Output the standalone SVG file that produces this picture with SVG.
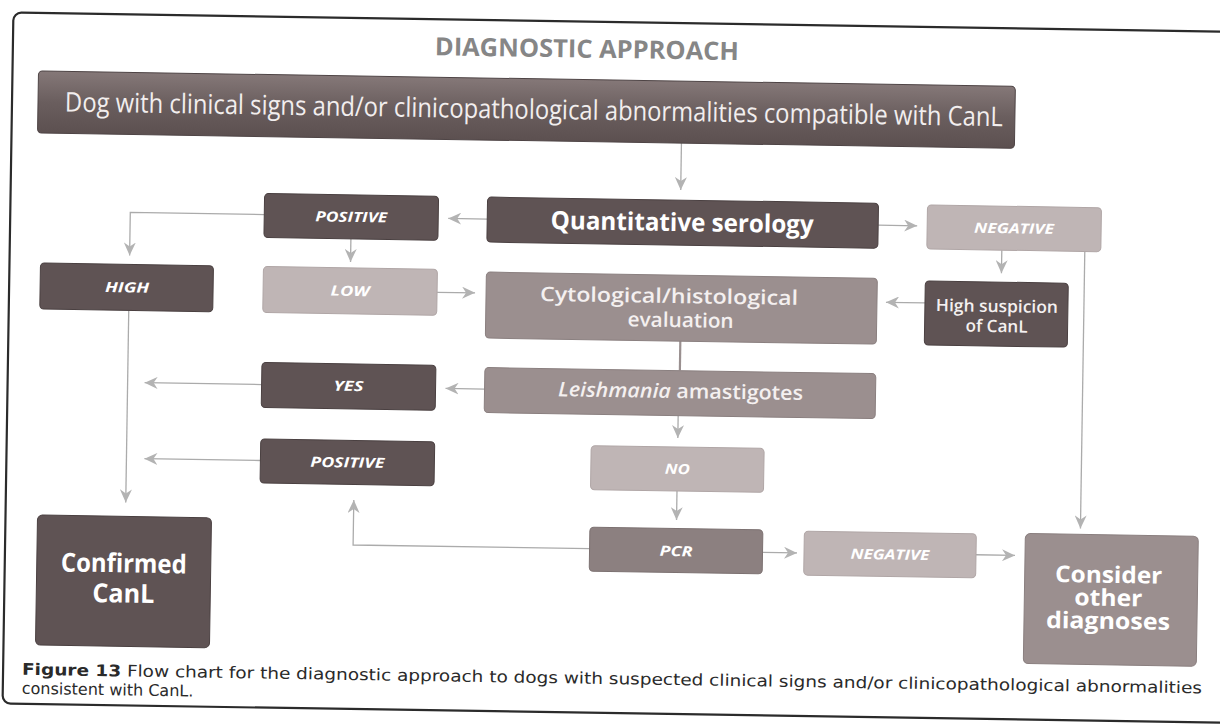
<svg xmlns="http://www.w3.org/2000/svg" width="1220" height="724" viewBox="0 0 1220 724">
<style>
.dark{fill:#5f5354;stroke:#4a4041;stroke-width:1}
.med{fill:#9b8f8f;stroke:#8a7f7f;stroke-width:1}
.pcr{fill:#8c8080;stroke:#7c7171;stroke-width:1}
.light{fill:#bfb5b5;stroke:#b0a6a6;stroke-width:1}
.lbl{font-family:"Open Sans","Liberation Sans",sans-serif;font-weight:bold;font-style:italic;font-size:14px;fill:#ffffff;text-anchor:middle}
.big{font-family:"Open Sans","Liberation Sans",sans-serif;font-weight:bold;fill:#ffffff;text-anchor:middle}
.mid{font-family:"Open Sans","Liberation Sans",sans-serif;font-weight:600;fill:#f4f0f0;text-anchor:middle}
.conn path{fill:none;stroke:#ababab;stroke-width:1.3}
.cap{font-family:"DejaVu Sans","Liberation Sans",sans-serif;font-size:16px;fill:#2a2a2a}
</style>
<defs>
<linearGradient id="topg" x1="0" y1="0" x2="0" y2="1">
<stop offset="0" stop-color="#857878"/>
<stop offset="0.5" stop-color="#6a5e5e"/>
<stop offset="1" stop-color="#5c5050"/>
</linearGradient>
<marker id="ah" markerUnits="userSpaceOnUse" markerWidth="14" markerHeight="12" viewBox="0 0 14 12" refX="13" refY="6" orient="auto">
<path d="M0,0 L13,6 L0,12 L4,6 Z" fill="#b3b3b3"/>
</marker>
</defs>
<rect width="1220" height="724" fill="#ffffff"/>
<g transform="rotate(0.9 610 362)">
<rect x="8" y="22" width="1240" height="691" rx="8" fill="none" stroke="#2b2b2b" stroke-width="2.2"/>
<text x="582" y="58" font-family="Open Sans, Liberation Sans, sans-serif" font-weight="bold" font-size="25" fill="#868686" text-anchor="middle" textLength="304" lengthAdjust="spacingAndGlyphs">DIAGNOSTIC APPROACH</text>

<g id="connectors" class="conn">
<path d="M678 142 V189" marker-end="url(#ah)"/>
<path d="M485 221 H446" marker-end="url(#ah)"/>
<path d="M876 221 H915" marker-end="url(#ah)"/>
<path d="M262 220 H128 V263" marker-end="url(#ah)"/>
<path d="M349 243 V266" marker-end="url(#ah)"/>
<path d="M436 295 H474" marker-end="url(#ah)"/>
<path d="M1000 244 V267" marker-end="url(#ah)"/>
<path d="M924 298 H885" marker-end="url(#ah)"/>
<path d="M680 340 V369.5" style="stroke:#9a9090;stroke-width:2.2"/>
<path d="M485 391 H446" marker-end="url(#ah)"/>
<path d="M262 390 H145" marker-end="url(#ah)"/>
<path d="M262 466 H146" marker-end="url(#ah)"/>
<path d="M128 318 V510" marker-end="url(#ah)"/>
<path d="M679 414.5 V437" marker-end="url(#ah)"/>
<path d="M679 490 V519" marker-end="url(#ah)"/>
<path d="M765.5 550 H800" marker-end="url(#ah)"/>
<path d="M979 549 H1018" marker-end="url(#ah)"/>
<path d="M1083 244 V521" marker-end="url(#ah)"/>
<path d="M592.5 549 H356 V504" marker-end="url(#ah)"/>
</g>

<g id="n-top">
<rect x="34" y="80" width="977" height="62" rx="4" fill="url(#topg)" stroke="#4e4445" stroke-width="1"/>
<text x="530" y="120" font-family="Open Sans, Liberation Sans, sans-serif" font-size="27" fill="#f2eeee" text-anchor="middle" textLength="938" lengthAdjust="spacingAndGlyphs">Dog with clinical signs and/or clinicopathological abnormalities compatible with CanL</text>
</g>
<g id="n-quant">
<rect class="dark" x="485" y="199" width="391" height="45" rx="4"/>
<text class="big" x="680" y="230" font-size="25" textLength="263" lengthAdjust="spacingAndGlyphs">Quantitative serology</text>
</g>
<g id="n-pos1">
<rect class="dark" x="262" y="199" width="174" height="44" rx="4"/>
<text class="lbl" x="349" y="226" textLength="72" lengthAdjust="spacingAndGlyphs">POSITIVE</text>
</g>
<g id="n-neg1">
<rect class="light" x="925" y="200" width="174" height="44" rx="4"/>
<text class="lbl" x="1012" y="227" textLength="80" lengthAdjust="spacingAndGlyphs">NEGATIVE</text>
</g>
<g id="n-high">
<rect class="dark" x="39" y="272" width="173" height="46" rx="4"/>
<text class="lbl" x="126" y="300" textLength="44" lengthAdjust="spacingAndGlyphs">HIGH</text>
</g>
<g id="n-low">
<rect class="light" x="262" y="272" width="174" height="46" rx="4"/>
<text class="lbl" x="349" y="300" textLength="39" lengthAdjust="spacingAndGlyphs">LOW</text>
</g>
<g id="n-cyto">
<rect class="med" x="485" y="274" width="391" height="66" rx="4"/>
<text class="mid" x="668" y="302" font-size="20" textLength="258" lengthAdjust="spacingAndGlyphs">Cytological/histological</text>
<text class="mid" x="680" y="326" font-size="20" textLength="106" lengthAdjust="spacingAndGlyphs">evaluation</text>
</g>
<g id="n-susp">
<rect class="dark" x="924" y="276" width="143" height="64" rx="4"/>
<text class="mid" x="996" y="306" font-size="17" textLength="122" lengthAdjust="spacingAndGlyphs">High suspicion</text>
<text class="mid" x="996" y="326" font-size="17" textLength="62" lengthAdjust="spacingAndGlyphs">of CanL</text>
</g>
<g id="n-yes">
<rect class="dark" x="262" y="368" width="174" height="45" rx="4"/>
<text class="lbl" x="349" y="395" textLength="30" lengthAdjust="spacingAndGlyphs">YES</text>
</g>
<g id="n-leish">
<rect class="med" x="485" y="369.5" width="391" height="45" rx="4"/>
<text class="mid" x="681" y="397" font-size="20" textLength="245" lengthAdjust="spacingAndGlyphs"><tspan font-style="italic">Leishmania</tspan> amastigotes</text>
</g>
<g id="n-pos2">
<rect class="dark" x="262" y="444.5" width="174" height="44" rx="4"/>
<text class="lbl" x="349" y="471.5" textLength="74" lengthAdjust="spacingAndGlyphs">POSITIVE</text>
</g>
<g id="n-no">
<rect class="light" x="592.5" y="446" width="173" height="44" rx="4"/>
<text class="lbl" x="679" y="473" textLength="25" lengthAdjust="spacingAndGlyphs">NO</text>
</g>
<g id="n-pcr">
<rect class="pcr" x="592.5" y="527.5" width="173" height="44" rx="4"/>
<text class="lbl" x="679" y="555" textLength="33" lengthAdjust="spacingAndGlyphs">PCR</text>
</g>
<g id="n-neg2">
<rect class="light" x="807" y="528" width="172" height="44" rx="4"/>
<text class="lbl" x="893" y="555" textLength="79" lengthAdjust="spacingAndGlyphs">NEGATIVE</text>
</g>
<g id="n-consider">
<rect class="med" x="1028" y="527" width="173" height="130" rx="5"/>
<text class="big" x="1112" y="575" font-size="23" textLength="107" lengthAdjust="spacingAndGlyphs">Consider</text>
<text class="big" x="1112" y="598" font-size="23" textLength="68" lengthAdjust="spacingAndGlyphs">other</text>
<text class="big" x="1112" y="621" font-size="23" textLength="124" lengthAdjust="spacingAndGlyphs">diagnoses</text>
</g>
<g id="n-confirmed">
<rect class="dark" x="40" y="524" width="174" height="130" rx="5"/>
<text class="big" x="127" y="580" font-size="26" textLength="126" lengthAdjust="spacingAndGlyphs">Confirmed</text>
<text class="big" x="127" y="610" font-size="26" textLength="62" lengthAdjust="spacingAndGlyphs">CanL</text>
</g>

<g id="caption">
<text class="cap" x="27" y="684" textLength="1180" lengthAdjust="spacingAndGlyphs"><tspan font-weight="bold">Figure 13</tspan> Flow chart for the diagnostic approach to dogs with suspected clinical signs and/or clinicopathological abnormalities</text>
<text class="cap" x="27" y="703">consistent with CanL.</text>
</g>
</g>
</svg>
